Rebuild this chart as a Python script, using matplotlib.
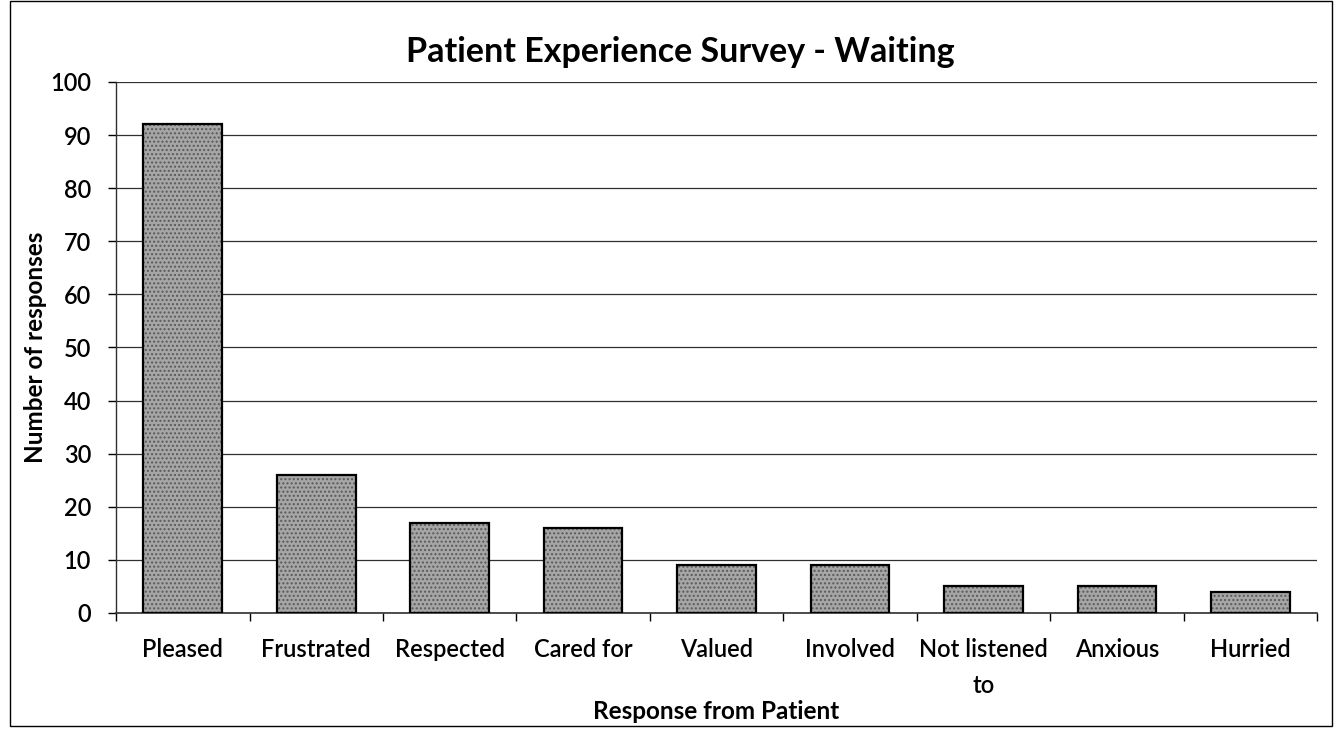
import matplotlib
matplotlib.use("Agg")
import matplotlib.pyplot as plt
import numpy as np
from matplotlib.patches import Rectangle

categories = ["Pleased", "Frustrated", "Respected", "Cared for", "Valued",
              "Involved", "Not listened\nto", "Anxious", "Hurried"]
responses = [92, 26, 17, 16, 9, 9, 5, 5, 4]
yticks = [0, 10, 20, 30, 40, 50, 60, 70, 80, 90, 100]

plt.rcParams['font.family'] = ['Lato', 'DejaVu Sans']

fig = plt.figure(figsize=(13.34, 7.32), dpi=100)
ax = fig.add_axes([0.087, 0.1626, 0.9003, 0.7254])

x = np.arange(len(categories))
ax.bar(x, responses, width=0.59, color='#a6a6a6', edgecolor='#5a5a5a',
       hatch='....', linewidth=0, zorder=3)
ax.bar(x, responses, width=0.59, fill=False, edgecolor='black',
       linewidth=1.6, zorder=4)

ax.set_xlim(-0.5, len(categories) - 0.5)
ax.set_ylim(0, 100)
ax.set_yticks(yticks)
ax.set_yticklabels([str(v) for v in yticks], fontsize=17, fontweight='semibold')
ax.set_xticks(x)
ax.set_xticklabels(categories, fontsize=17, fontweight='semibold', linespacing=1.68)
ax.tick_params(axis='x', length=0, pad=18)
ax.set_xticks(np.arange(-0.5, len(categories), 1.0), minor=True)
ax.tick_params(axis='x', which='minor', length=6, width=1, direction='out')
ax.tick_params(axis='y', length=6, width=1, direction='out', pad=12)

ax.grid(axis='y', color='#303030', linewidth=0.9, zorder=0)
for s in ['top', 'right']:
    ax.spines[s].set_visible(False)
ax.spines['left'].set_color('#303030')
ax.spines['bottom'].set_color('#303030')
ax.spines['left'].set_linewidth(1)
ax.spines['bottom'].set_linewidth(1.2)

ax.set_ylabel("Number of responses", fontsize=17.5, fontweight='bold', labelpad=2)
ax.set_xlabel("Response from Patient", fontsize=17.5, fontweight='bold', labelpad=2)
fig.text(0.51, 0.929, "Patient Experience Survey - Waiting", fontsize=24.5,
         fontweight='bold', ha='center', va='center')

fig.patches.append(Rectangle((0.0075, 0.008), 0.991, 0.99, transform=fig.transFigure,
                             fill=False, edgecolor='black', linewidth=1))

fig.savefig("out.png", dpi=100)
